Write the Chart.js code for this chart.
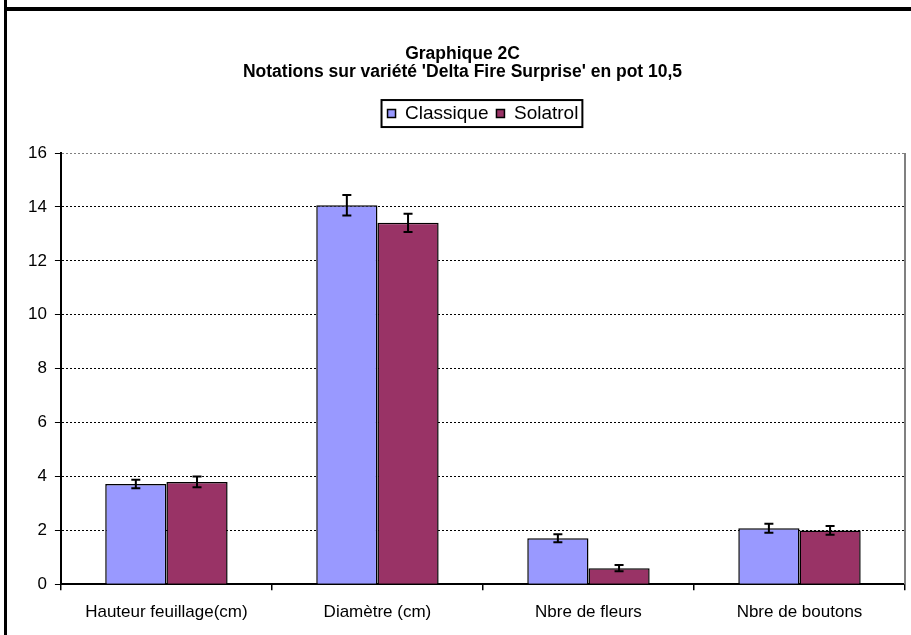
<!DOCTYPE html>
<html>
<head>
<meta charset="utf-8">
<title>Graphique 2C</title>
<script src="https://cdn.jsdelivr.net/npm/chart.js@4"></script>
<style>
  html, body { margin: 0; padding: 0; background: #fff; }
  #wrap { position: relative; width: 911px; height: 635px; overflow: hidden; }
  #wrap canvas { position: absolute; left: 0; top: 0; }
  .frameTop { position: absolute; left: 4px; top: 7px; width: 907px; height: 4px; background: #000; }
  .frameLeft { position: absolute; left: 4px; top: 0; width: 3px; height: 635px; background: #000; }
</style>
</head>
<body>
<div id="wrap">
  <canvas id="chart" width="911" height="635"></canvas>
  <div class="frameTop"></div>
  <div class="frameLeft"></div>
</div>
<script>
// Data
const categories = ['Hauteur feuillage(cm)', 'Diamètre (cm)', 'Nbre de fleurs', 'Nbre de boutons'];
const classique = [3.72, 14.06, 1.71, 2.08];
const classiqueErr = [0.16, 0.38, 0.15, 0.17];
const solatrol = [3.8, 13.41, 0.6, 2.0];
const solatrolErr = [0.2, 0.34, 0.12, 0.16];
const yTicks = [0, 2, 4, 6, 8, 10, 12, 14, 16];

const FONT = "'Liberation Sans', Arial, sans-serif";

// error bars (whiskers) drawn from the y scale
const errorBars = {
  id: 'errorBars',
  afterDatasetsDraw(chart) {
    const ctx = chart.ctx;
    const y = chart.scales.y;
    chart.data.datasets.forEach((ds, di) => {
      const meta = chart.getDatasetMeta(di);
      meta.data.forEach((bar, i) => {
        const v = ds.data[i], e = ds.errors[i];
        const top = y.getPixelForValue(v + e);
        const bot = y.getPixelForValue(v - e);
        ctx.save();
        ctx.strokeStyle = '#000';
        ctx.lineWidth = 2;
        ctx.beginPath();
        ctx.moveTo(bar.x, top); ctx.lineTo(bar.x, bot);
        ctx.moveTo(bar.x - 4.5, top); ctx.lineTo(bar.x + 4.5, top);
        ctx.moveTo(bar.x - 4.5, bot); ctx.lineTo(bar.x + 4.5, bot);
        ctx.stroke();
        ctx.restore();
      });
    });
  }
};

// legend box border + right plot border
const frames = {
  id: 'frames',
  afterDraw(chart) {
    const ctx = chart.ctx;
    const lg = chart.legend;
    const boxes = lg.legendHitBoxes;
    if (boxes && boxes.length) {
      const l = Math.min(...boxes.map(b => b.left)) - 6;
      const r = Math.max(...boxes.map(b => b.left + b.width)) + 4;
      const t = Math.min(...boxes.map(b => b.top)) - 4;
      const b = Math.max(...boxes.map(b => b.top + b.height)) + 4;
      ctx.save();
      ctx.strokeStyle = '#000';
      ctx.lineWidth = 2;
      ctx.strokeRect(l, t, r - l, b - t);
      ctx.restore();
    }
    const a = chart.chartArea;
    ctx.save();
    ctx.strokeStyle = '#808080';
    ctx.lineWidth = 2;
    ctx.beginPath();
    ctx.moveTo(a.right, a.top); ctx.lineTo(a.right, a.bottom);
    ctx.stroke();
    ctx.restore();
  }
};

new Chart(document.getElementById('chart'), {
  type: 'bar',
  data: {
    labels: categories,
    datasets: [
      {
        label: 'Classique',
        data: classique,
        errors: classiqueErr,
        backgroundColor: '#9999FF',
        borderColor: '#000',
        borderWidth: 1.5,
        categoryPercentage: 0.58,
        barPercentage: 1
      },
      {
        label: 'Solatrol',
        data: solatrol,
        errors: solatrolErr,
        backgroundColor: '#993366',
        borderColor: '#000',
        borderWidth: 1.5,
        categoryPercentage: 0.58,
        barPercentage: 1
      }
    ]
  },
  options: {
    responsive: false,
    animation: false,
    layout: { padding: { left: 20, right: 6, top: 0, bottom: 0 } },
    plugins: {
      title: {
        display: true,
        text: ['Graphique 2C', "Notations sur variété 'Delta Fire Surprise' en pot 10,5"],
        color: '#000',
        font: { family: FONT, size: 17.5, weight: 'bold', lineHeight: 1.03 },
        padding: { top: 45, bottom: 15 }
      },
      // empty spacer between legend and plot
      subtitle: {
        display: true,
        text: ' ',
        weight: 500,
        font: { size: 1, lineHeight: 1 },
        padding: { top: 0, bottom: 19 }
      },
      legend: {
        position: 'top',
        fullSize: false,
        labels: {
          color: '#000',
          font: { family: FONT, size: 19 },
          boxWidth: 8,
          boxHeight: 8,
          padding: 8,
          generateLabels(chart) {
            return chart.data.datasets.map((ds, i) => ({
              text: ds.label,
              fillStyle: ds.backgroundColor,
              strokeStyle: '#000',
              lineWidth: 1.5,
              datasetIndex: i
            }));
          }
        }
      },
      tooltip: { enabled: false }
    },
    scales: {
      x: {
        offset: true,
        border: { color: '#000', width: 2 },
        grid: { offset: true, drawOnChartArea: false, color: '#000', tickLength: 6, lineWidth: 1.5 },
        ticks: { color: '#000', font: { family: FONT, size: 17, lineHeight: 1.1 }, padding: 13, maxRotation: 0 }
      },
      y: {
        min: 0,
        max: 16,
        afterBuildTicks(axis) { axis.ticks = yTicks.map(v => ({ value: v })); },
        border: { color: '#000', width: 2, dash: [2, 2] },
        grid: {
          color: ctx => ctx.tick && ctx.tick.value === 16 ? '#808080' : '#000',
          tickColor: '#000',
          tickLength: 6,
          lineWidth: 1,
          tickBorderDash: []
        },
        ticks: { color: '#000', font: { family: FONT, size: 17 }, padding: 8 }
      }
    }
  },
  plugins: [errorBars, frames]
});
</script>
</body>
</html>
